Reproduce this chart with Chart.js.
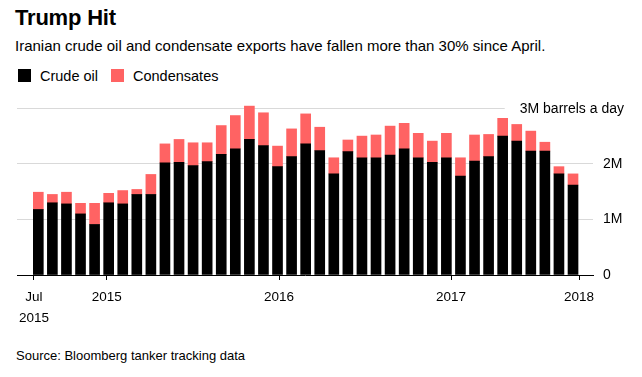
<!DOCTYPE html>
<html><head><meta charset="utf-8">
<script src="https://cdn.jsdelivr.net/npm/chart.js@4/dist/chart.umd.min.js"></script>
<style>
html,body{margin:0;padding:0;background:#fff;}
body{width:642px;height:377px;position:relative;overflow:hidden;font-family:"Liberation Sans",Arial,sans-serif;color:#000;}
.t{position:absolute;white-space:nowrap;}
#title{left:15px;top:7px;font-size:22px;line-height:22px;font-weight:bold;letter-spacing:-0.2px;}
#sub{left:15px;top:38px;font-size:15px;line-height:15px;}
.sw{position:absolute;width:13px;height:13px;top:69px;}
#sw1{left:18px;background:#000;}
#sw2{left:111px;background:#ff6363;}
#leg1{left:40px;top:68.5px;font-size:14.5px;line-height:14.5px;}
#leg2{left:133px;top:68.5px;font-size:14.5px;line-height:14.5px;}
#src{left:16px;top:349px;font-size:13px;line-height:13px;}
#wrap{position:absolute;left:0;top:90px;width:642px;height:240px;}
</style></head>
<body>
<div class="t" id="title">Trump Hit</div>
<div class="t" id="sub">Iranian crude oil and condensate exports have fallen more than 30% since April.</div>
<div class="sw" id="sw1"></div><div class="t" id="leg1">Crude oil</div>
<div class="sw" id="sw2"></div><div class="t" id="leg2">Condensates</div>
<div id="wrap"><canvas id="c" width="642" height="240"></canvas></div>
<div class="t" id="src">Source: Bloomberg tanker tracking data</div>
<script>
// Crude oil exports, million barrels a day (39 monthly bars)
const crude = [1.18,1.30,1.28,1.10,0.91,1.30,1.28,1.45,1.45,2.02,2.03,1.97,2.04,2.17,2.27,2.44,2.33,1.95,2.13,2.36,2.24,1.82,2.22,2.11,2.11,2.16,2.27,2.11,2.03,2.11,1.78,2.05,2.13,2.50,2.41,2.23,2.23,1.82,1.62];
// Condensate exports, million barrels a day
const condensates = [0.31,0.15,0.21,0.19,0.38,0.17,0.24,0.09,0.36,0.34,0.41,0.41,0.34,0.52,0.60,0.60,0.59,0.37,0.50,0.54,0.42,0.29,0.21,0.39,0.41,0.52,0.46,0.44,0.38,0.44,0.33,0.47,0.40,0.32,0.30,0.36,0.16,0.13,0.20];
const seriesNames = ['Crude oil','Condensates'];
const xTickLabels = [['Jul','2015'],'2015','2016','2017','2018'];
const xTickAt = [-0.31,4.86,17.11,29.33,38.43];
const yTickValues = [0,1,2,3];
const yTickLabels = ['0','1M','2M','3M barrels a day'];

Chart.defaults.font.family = '"Liberation Sans", Arial, sans-serif';
Chart.defaults.color = '#000';

const unitLabel = {
  id:'unitLabel',
  beforeDatasetsDraw(chart){
    const s=chart.scales.y, ctx=chart.ctx, a=chart.chartArea;
    const y=s.getPixelForValue(yTickValues[3]);
    ctx.save();
    ctx.font='14px "Liberation Sans", Arial, sans-serif';
    const w=ctx.measureText(yTickLabels[3]).width;
    const left=624-w-15;
    ctx.fillStyle='#fff';
    ctx.fillRect(left,y-2,a.right-left+2,4);
    ctx.restore();
  },
  afterDraw(chart){
    const s=chart.scales.y, ctx=chart.ctx;
    const y=s.getPixelForValue(yTickValues[3]);
    ctx.save();
    ctx.font='14px "Liberation Sans", Arial, sans-serif';
    ctx.fillStyle='#000';ctx.textAlign='right';ctx.textBaseline='middle';
    ctx.fillText(yTickLabels[3],624,y+1);
    ctx.restore();
  }
};

new Chart(document.getElementById('c'),{
  type:'bar',
  data:{datasets:[
    {label:seriesNames[0],data:crude.map((v,i)=>({x:i,y:v})),backgroundColor:'#000',barThickness:10,stack:'s'},
    {label:seriesNames[1],data:condensates.map((v,i)=>({x:i,y:v})),backgroundColor:'#ff6363',barThickness:10,stack:'s'}
  ]},
  options:{
    responsive:false,animation:false,events:[],devicePixelRatio:1,
    layout:{padding:{top:10,left:17,right:0,bottom:0}},
    plugins:{legend:{display:false},tooltip:{enabled:false},title:{display:false}},
    scales:{
      x:{type:'linear',stacked:true,min:-1.514,max:39.42,offset:false,
        afterBuildTicks:s=>{s.ticks=xTickAt.map(v=>({value:v}));},
        afterFit:s=>{s.height=55;s.paddingLeft=0;s.paddingRight=0;},
        grid:{display:true,drawOnChartArea:false,drawTicks:true,tickLength:5,color:'#000',offset:false},
        border:{display:true,color:'#000',width:1},
        ticks:{autoSkip:false,maxRotation:0,minRotation:0,padding:6,color:'#000',font:{size:13.5,lineHeight:1.6},callback:(v,i)=>xTickLabels[i]}
      },
      y:{type:'linear',position:'right',stacked:true,min:0,max:3.15,
        afterBuildTicks:s=>{s.ticks=yTickValues.map(v=>({value:v}));},
        afterFit:s=>{s.width=49;s.paddingTop=0;s.paddingBottom=0;},
        grid:{drawTicks:false,color:c=>c.index===0?'rgba(0,0,0,0)':'#d9d9d9'},
        border:{display:false},
        ticks:{crossAlign:'near',padding:10,font:{size:14},color:c=>c.index===3?'rgba(0,0,0,0)':'#000',callback:(v,i)=>yTickLabels[i]}
      }
    }
  },
  plugins:[unitLabel]
});
</script>
</body></html>
